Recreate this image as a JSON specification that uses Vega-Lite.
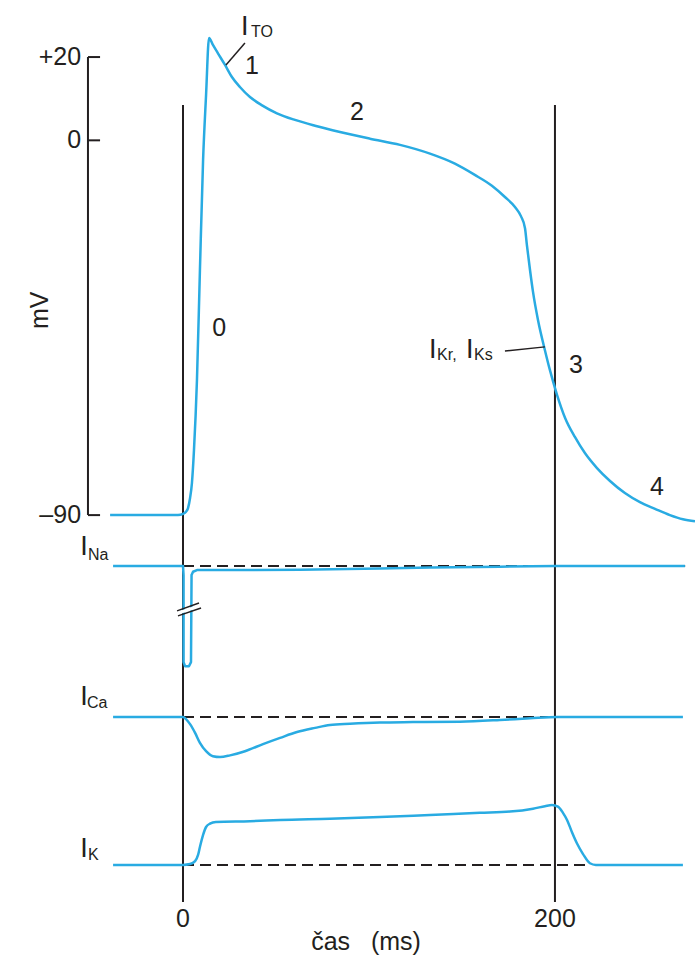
{
  "$schema": "https://vega.github.io/schema/vega-lite/v6.json",
  "width": 695,
  "height": 959,
  "padding": 0,
  "autosize": {"type": "none"},
  "background": "white",
  "config": {"view": {"stroke": null}, "text": {"font": "Liberation Sans", "color": "#231f20"}},
  "datasets": {
    "ap": [
      {"t": -39.2, "v": -90.0}, {"t": -2.7, "v": -90.0}, {"t": 0, "v": -89.7}, {"t": 1.6, "v": -89.2},
      {"t": 2.7, "v": -88.3}, {"t": 3.8, "v": -85.9}, {"t": 4.8, "v": -82.3}, {"t": 5.9, "v": -74.4},
      {"t": 7.5, "v": -57.6}, {"t": 9.1, "v": -31.2}, {"t": 10.8, "v": -4.7}, {"t": 12.4, "v": 10.9},
      {"t": 14.0, "v": 24.6}, {"t": 16.1, "v": 22.9}, {"t": 18.8, "v": 20.9}, {"t": 22.6, "v": 18.1},
      {"t": 26.3, "v": 15.2}, {"t": 30.6, "v": 12.8}, {"t": 36.0, "v": 10.4}, {"t": 42.5, "v": 8.4},
      {"t": 50.5, "v": 6.5}, {"t": 60.2, "v": 4.9}, {"t": 71.0, "v": 3.5}, {"t": 84.4, "v": 2.0},
      {"t": 100.5, "v": 0.4}, {"t": 116.7, "v": -1.1}, {"t": 132.8, "v": -3.2}, {"t": 146.2, "v": -5.6},
      {"t": 156.9, "v": -8.3}, {"t": 166.1, "v": -10.9}, {"t": 173.1, "v": -13.6}, {"t": 178.5, "v": -16.0},
      {"t": 181.7, "v": -18.2}, {"t": 183.9, "v": -21.1}, {"t": 184.9, "v": -25.1}, {"t": 186.6, "v": -31.2},
      {"t": 188.2, "v": -36.4}, {"t": 190.9, "v": -43.2}, {"t": 194.6, "v": -50.4}, {"t": 197.3, "v": -55.2},
      {"t": 201.1, "v": -61.1}, {"t": 205.4, "v": -66.6}, {"t": 210.8, "v": -71.3}, {"t": 216.1, "v": -75.1},
      {"t": 222.6, "v": -78.7}, {"t": 229.6, "v": -81.8}, {"t": 237.6, "v": -84.7}, {"t": 245.7, "v": -86.9},
      {"t": 253.8, "v": -88.5}, {"t": 261.8, "v": -90.0}, {"t": 268.8, "v": -91.0}, {"t": 275.3, "v": -91.5}
    ],
    "ina": [
      {"i": 1, "t": -37.6, "v": -102.2}, {"i": 2, "t": 0, "v": -102.2}, {"i": 3, "t": 0.3, "v": -104.4},
      {"i": 4, "t": 0.3, "v": -125.3}, {"i": 5, "t": 1.1, "v": -126.3}, {"i": 6, "t": 3.2, "v": -126.3},
      {"i": 7, "t": 4.3, "v": -125.3}, {"i": 8, "t": 4.6, "v": -104.4}, {"i": 9, "t": 5.4, "v": -103.6},
      {"i": 10, "t": 7.5, "v": -103.2}, {"i": 11, "t": 25.3, "v": -103.2}, {"i": 12, "t": 62.9, "v": -103.1},
      {"i": 13, "t": 105.9, "v": -102.8}, {"i": 14, "t": 132.8, "v": -102.6}, {"i": 15, "t": 170.4, "v": -102.4},
      {"i": 16, "t": 200, "v": -102.2}, {"i": 17, "t": 269.9, "v": -102.2}
    ],
    "ica": [
      {"t": -37.6, "v": -138.5}, {"t": 0, "v": -138.5}, {"t": 1.6, "v": -139.0}, {"t": 3.8, "v": -140.2},
      {"t": 6.5, "v": -142.3}, {"t": 9.1, "v": -144.7}, {"t": 12.4, "v": -146.7}, {"t": 16.1, "v": -147.9},
      {"t": 19.9, "v": -148.1}, {"t": 25.3, "v": -147.7}, {"t": 33.3, "v": -146.7}, {"t": 43.0, "v": -145.0},
      {"t": 52.2, "v": -143.5}, {"t": 61.3, "v": -142.1}, {"t": 71.0, "v": -141.1}, {"t": 79.0, "v": -140.4},
      {"t": 89.8, "v": -140.1}, {"t": 105.9, "v": -139.8}, {"t": 123.7, "v": -139.7}, {"t": 148.9, "v": -139.6},
      {"t": 170.4, "v": -139.2}, {"t": 186.6, "v": -138.8}, {"t": 201.1, "v": -138.5}, {"t": 268.8, "v": -138.5}
    ],
    "ik": [
      {"t": -37.6, "v": -174.0}, {"t": 0, "v": -174.0}, {"t": 3.8, "v": -173.8}, {"t": 6.5, "v": -173.1},
      {"t": 8.1, "v": -171.6}, {"t": 9.1, "v": -169.7}, {"t": 10.8, "v": -166.8}, {"t": 12.4, "v": -164.9},
      {"t": 14.5, "v": -164.1}, {"t": 17.7, "v": -163.7}, {"t": 36.0, "v": -163.5}, {"t": 52.2, "v": -163.2},
      {"t": 79.0, "v": -162.9}, {"t": 105.9, "v": -162.5}, {"t": 132.8, "v": -162.0}, {"t": 159.7, "v": -161.5},
      {"t": 175.8, "v": -161.2}, {"t": 188.2, "v": -160.5}, {"t": 194.6, "v": -159.9}, {"t": 198.4, "v": -159.6},
      {"t": 201.6, "v": -160.0}, {"t": 204.3, "v": -161.5}, {"t": 206.5, "v": -163.2}, {"t": 209.1, "v": -166.1},
      {"t": 211.8, "v": -168.8}, {"t": 215.1, "v": -171.4}, {"t": 218.8, "v": -173.6}, {"t": 222.0, "v": -174.0},
      {"t": 268.8, "v": -174.0}
    ],
    "vlines": [{"t": 0, "v": 8.5, "v2": -182.9}, {"t": 200, "v": 8.5, "v2": -182.9}],
    "zeros": [
      {"s": "INa", "t": 0, "t2": 270, "v": -102.2},
      {"s": "ICa", "t": 0, "t2": 200, "v": -138.5},
      {"s": "IK", "t": 0, "t2": 218.8, "v": -174.0}
    ],
    "axisrules": [
      {"t": -51.1, "t2": -51.1, "v": 20, "v2": -90},
      {"t": -51.1, "t2": -44.6, "v": 20, "v2": 20},
      {"t": -51.1, "t2": -44.6, "v": 0, "v2": 0},
      {"t": -51.1, "t2": -44.6, "v": -90, "v2": -90}
    ],
    "leaders": [
      {"t": 33.3, "v": 23.4, "t2": 23.1, "v2": 18.1},
      {"t": 173.1, "v": -50.6, "t2": 194.6, "v2": -49.6}
    ],
    "breakgap": [{"t": -3.2, "v": -113.6, "t2": 9.7, "v2": -111.7}],
    "breaks": [
      {"t": -3.2, "v": -113.0, "t2": 8.6, "v2": -111.1},
      {"t": -2.7, "v": -114.2, "t2": 9.7, "v2": -112.3}
    ],
    "ticklabels": [
      {"label": "+20", "t": -54.8, "v": 20},
      {"label": "0", "t": -54.8, "v": 0},
      {"label": "–90", "t": -54.8, "v": -90}
    ],
    "centered": [
      {"label": "0", "t": 0, "v": -187.0},
      {"label": "200", "t": 200, "v": -187.0},
      {"label": "čas\u00a0\u00a0\u00a0(ms)", "t": 98.4, "v": -192.5},
      {"label": "0", "t": 19.4, "v": -45.1},
      {"label": "1", "t": 37.1, "v": 17.8},
      {"label": "2", "t": 93.5, "v": 6.8},
      {"label": "3", "t": 211.3, "v": -54.0},
      {"label": "4", "t": 254.8, "v": -83.2}
    ],
    "mv": [{"label": "mV", "t": -76.9, "v": -40.8}],
    "bigI": [
      {"label": "I", "t": 31.2, "v": 25.3},
      {"label": "I", "t": 132.3, "v": -52.3},
      {"label": "I", "t": 152.2, "v": -52.3},
      {"label": "I", "t": -55.3, "v": -99.6},
      {"label": "I", "t": -55.3, "v": -135.6},
      {"label": "I", "t": -55.3, "v": -172.1}
    ],
    "subs": [
      {"label": "TO", "t": 36.6, "v": 24.8},
      {"label": "Kr,", "t": 136.6, "v": -52.8},
      {"label": "Ks", "t": 156.5, "v": -52.8},
      {"label": "Na", "t": -51.1, "v": -100.8},
      {"label": "Ca", "t": -51.6, "v": -136.3},
      {"label": "K", "t": -51.1, "v": -172.8}
    ]
  },
  "encoding": {
    "x": {"field": "t", "type": "quantitative", "axis": null, "scale": {"domain": [-98.4, 275.3], "nice": false, "zero": false}},
    "y": {"field": "v", "type": "quantitative", "axis": null, "scale": {"domain": [-196.6, 33.7], "nice": false, "zero": false}}
  },
  "layer": [
    {"data": {"name": "vlines"}, "mark": {"type": "rule", "color": "#231f20", "strokeWidth": 2}, "encoding": {"y2": {"field": "v2"}}},
    {"data": {"name": "axisrules"}, "mark": {"type": "rule", "color": "#231f20", "strokeWidth": 2}, "encoding": {"x2": {"field": "t2"}, "y2": {"field": "v2"}}},
    {"data": {"name": "zeros"}, "mark": {"type": "rule", "color": "#231f20", "strokeWidth": 2, "strokeDash": [11, 6]}, "encoding": {"x2": {"field": "t2"}}},
    {"data": {"name": "ap"}, "mark": {"type": "line", "color": "#29abe2", "strokeWidth": 2.5, "interpolate": "monotone"}, "encoding": {}},
    {"data": {"name": "ina"}, "mark": {"type": "line", "color": "#29abe2", "strokeWidth": 2.5, "strokeJoin": "round"}, "encoding": {"order": {"field": "i", "type": "quantitative"}}},
    {"data": {"name": "ica"}, "mark": {"type": "line", "color": "#29abe2", "strokeWidth": 2.5, "interpolate": "monotone"}, "encoding": {}},
    {"data": {"name": "ik"}, "mark": {"type": "line", "color": "#29abe2", "strokeWidth": 2.5, "interpolate": "monotone"}, "encoding": {}},
    {"data": {"name": "breakgap"}, "mark": {"type": "rule", "color": "white", "strokeWidth": 3}, "encoding": {"x2": {"field": "t2"}, "y2": {"field": "v2"}}},
    {"data": {"name": "breaks"}, "mark": {"type": "rule", "color": "#231f20", "strokeWidth": 1.5}, "encoding": {"x2": {"field": "t2"}, "y2": {"field": "v2"}}},
    {"data": {"name": "leaders"}, "mark": {"type": "rule", "color": "#231f20", "strokeWidth": 1.5}, "encoding": {"x2": {"field": "t2"}, "y2": {"field": "v2"}}},
    {"data": {"name": "ticklabels"}, "mark": {"type": "text", "fontSize": 25, "align": "right", "baseline": "middle"}, "encoding": {"text": {"field": "label"}}},
    {"data": {"name": "centered"}, "mark": {"type": "text", "fontSize": 25, "align": "center", "baseline": "middle"}, "encoding": {"text": {"field": "label"}}},
    {"data": {"name": "mv"}, "mark": {"type": "text", "fontSize": 25, "align": "center", "baseline": "middle", "angle": 270}, "encoding": {"text": {"field": "label"}}},
    {"data": {"name": "bigI"}, "mark": {"type": "text", "fontSize": 27, "align": "left", "baseline": "alphabetic"}, "encoding": {"text": {"field": "label"}}},
    {"data": {"name": "subs"}, "mark": {"type": "text", "fontSize": 16, "align": "left", "baseline": "alphabetic"}, "encoding": {"text": {"field": "label"}}}
  ]
}
